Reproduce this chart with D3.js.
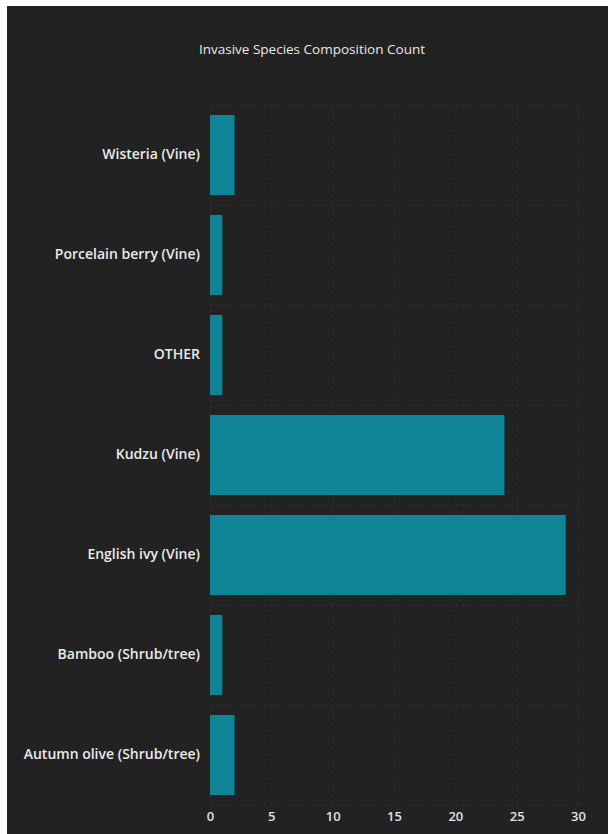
<!DOCTYPE html>
<html>
<head>
<meta charset="utf-8">
<script src="https://cdn.jsdelivr.net/npm/d3@7"></script>
<style>
  html, body { margin: 0; padding: 0; background: #ffffff; }
  svg { display: block; }
</style>
</head>
<body>
<svg id="chart" width="608" height="834"></svg>
<script>
// Invasive species counts, listed top to bottom
const species = [
  "Wisteria (Vine)",
  "Porcelain berry (Vine)",
  "OTHER",
  "Kudzu (Vine)",
  "English ivy (Vine)",
  "Bamboo (Shrub/tree)",
  "Autumn olive (Shrub/tree)"
];
const counts = [2, 1, 1, 24, 29, 1, 2];
const xTicks = [0, 5, 10, 15, 20, 25, 30];
const chartTitle = "Invasive Species Composition Count";

const svg = d3.select("#chart");
const W = 608, H = 834;

// dark panel
svg.append("rect")
  .attr("x", 7).attr("y", 6)
  .attr("width", W - 7).attr("height", H - 6)
  .attr("fill", "#222222");

const margin = { top: 105, left: 210 };
const plotRight = 578, plotBottom = 805;

const x = d3.scaleLinear().domain([0, 30]).range([margin.left, plotRight]);
const y = d3.scaleBand().domain(species).range([margin.top, plotBottom]).paddingInner(0.2).paddingOuter(0.1);

// title
svg.append("text")
  .attr("x", 312).attr("y", 54)
  .attr("text-anchor", "middle")
  .attr("fill", "#e8e8e8")
  .style("font-family", "'Open Sans', sans-serif")
  .style("font-size", "13.5px")
  .text(chartTitle);

// gridlines
const grid = svg.append("g").attr("stroke", "#2f2f2f").attr("stroke-width", 1)
  .attr("stroke-dasharray", "3,3");
grid.selectAll("line.v").data(xTicks).join("line")
  .attr("class", "v")
  .attr("x1", d => x(d) + 0.5).attr("x2", d => x(d) + 0.5)
  .attr("y1", margin.top).attr("y2", plotBottom);
const step = y.step();
const bounds = d3.range(species.length + 1).map(i => margin.top + i * step);
grid.selectAll("line.h").data(bounds).join("line")
  .attr("class", "h")
  .attr("x1", margin.left).attr("x2", plotRight)
  .attr("y1", d => Math.round(d) + 0.5).attr("y2", d => Math.round(d) + 0.5);

// bars
svg.append("g").selectAll("rect").data(species).join("rect")
  .attr("x", x(0))
  .attr("y", d => y(d))
  .attr("width", (d, i) => x(counts[i]) - x(0))
  .attr("height", y.bandwidth())
  .attr("fill", "#0f8496");

// y axis labels
const yAxis = svg.append("g")
  .attr("transform", `translate(${margin.left - 8},0)`)
  .call(d3.axisLeft(y).tickSize(0).tickPadding(2));
yAxis.select(".domain").remove();
yAxis.selectAll("text")
  .attr("fill", "#eaeaea")
  .style("font-family", "'Open Sans', sans-serif")
  .style("font-size", "14px")
  .style("font-weight", "600");

// x axis
const xAxis = svg.append("g")
  .attr("transform", `translate(0,${plotBottom})`)
  .call(d3.axisBottom(x).tickValues(xTicks).tickSize(0).tickPadding(7));
xAxis.select(".domain").remove();
xAxis.selectAll("text")
  .attr("fill", "#e0e0e0")
  .style("font-family", "'Open Sans', sans-serif")
  .style("font-size", "13px")
  .style("font-weight", "600");
</script>
</body>
</html>
